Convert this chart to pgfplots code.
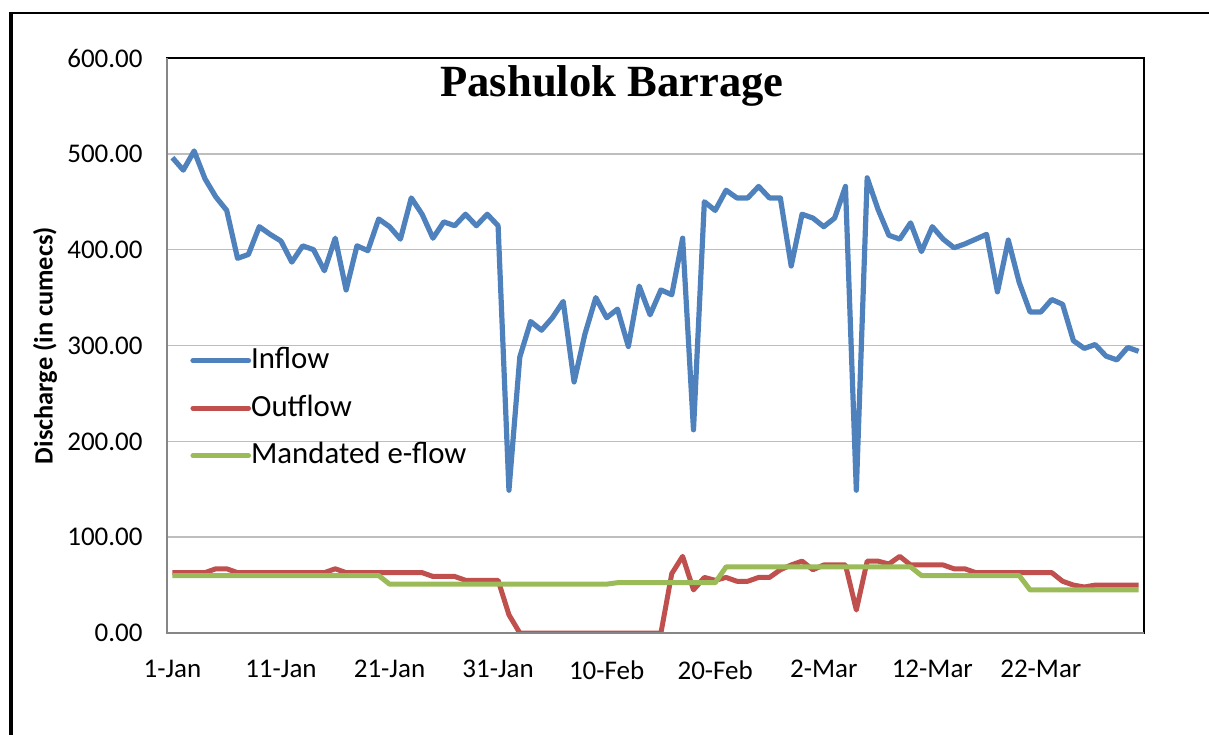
\documentclass[border=0pt]{standalone}
\usepackage{fontspec}
\setmainfont{Carlito}
\newfontfamily\titlefont{Liberation Serif}
\usepackage{pgfplots}
\pgfplotsset{compat=1.18}
\usepackage{pgfplotstable}
\definecolor{cIn}{HTML}{4F81BD}
\definecolor{cOut}{HTML}{C0504D}
\definecolor{cEf}{HTML}{9BBB59}
\definecolor{gridc}{HTML}{BEBEBE}
\definecolor{axc}{HTML}{868686}

\pgfplotstableread{
d v
0 496
1 483
2 503
3 474
4 455
5 441
6 391
7 395
8 424
9 416
10 409
11 387
12 404
13 400
14 378
15 412
16 358
17 404
18 399
19 432
20 424
21 411
22 454
23 437
24 412
25 429
26 425
27 437
28 425
29 437
30 425
31 149
32 288
33 325
34 316
35 329
36 346
37 262
38 312
39 350
40 329
41 338
42 299
43 362
44 332
45 358
46 353
47 412
48 212
49 450
50 441
51 462
52 454
53 454
54 466
55 454
56 454
57 383
58 437
59 433
60 424
61 433
62 466
63 149
64 475
65 442
66 415
67 411
68 428
69 398
70 424
71 411
72 402
73 406
74 411
75 416
76 356
77 410
78 366
79 335
80 335
81 348
82 343
83 305
84 297
85 301
86 289
87 285
88 298
89 294
}\inflow

\pgfplotstableread{
d v
0 63
1 63
2 63
3 63
4 67
5 67
6 63
7 63
8 63
9 63
10 63
11 63
12 63
13 63
14 63
15 67
16 63
17 63
18 63
19 63
20 63
21 63
22 63
23 63
24 59
25 59
26 59
27 55
28 55
29 55
30 55
31 19
32 0
33 0
34 0
35 0
36 0
37 0
38 0
39 0
40 0
41 0
42 0
43 0
44 0
45 0
46 62
47 80
48 45
49 58
50 55
51 58
52 54
53 54
54 58
55 58
56 66
57 71
58 75
59 66
60 71
61 71
62 71
63 24
64 75
65 75
66 72
67 80
68 71
69 71
70 71
71 71
72 67
73 67
74 63
75 63
76 63
77 63
78 63
79 63
80 63
81 63
82 54
83 50
84 48
85 50
86 50
87 50
88 50
89 50
}\outflow

\pgfplotstableread{
d v
0 60
19 60
20 51
40 51
41 52.5
50 52.5
51 69
68 69
69 60
78 60
79 45
89 45
}\eflow

\begin{document}
\begin{tikzpicture}
\useasboundingbox (0,0) rectangle (604.5pt,-367pt);
\draw[line width=2pt] (5.65pt,-380pt) -- (5.65pt,-5.85pt);
\draw[line width=1pt] (4.65pt,-6.35pt) -- (620pt,-6.35pt);
\begin{axis}[
  at={(83.5pt,-316.5pt)}, anchor=south west,
  scale only axis, width=488.5pt, height=287.5pt,
  xmin=-0.5, xmax=89.5, ymin=0, ymax=600,
  xtick={0,10,...,80},
  xticklabels={1-Jan,11-Jan,21-Jan,31-Jan,10-Feb,20-Feb,2-Mar,12-Mar,22-Mar},
  ytick={0,100,...,600},
  major tick length=0pt,
  ymajorgrids, grid style={color=gridc, line width=0.7pt},
  axis line style={draw=black, line width=0.8pt},
  /pgf/number format/assume math mode=true,
  yticklabel={\pgfmathprintnumber[fixed, fixed zerofill, precision=2]{\tick}},
  yticklabel style={font=\fontsize{13.5}{15}\selectfont, inner sep=0pt, anchor=east, xshift=-12pt},
  xticklabel style={font=\fontsize{13.5}{15}\selectfont, inner sep=0pt, anchor=north, yshift=-13.5pt},
  ylabel={\bfseries Discharge (in cumecs)},
  ylabel style={font=\fontsize{13.2}{15}\selectfont, at={(axis description cs:-0.1249,0.5)}, anchor=center},
  legend style={at={(rel axis cs:0.0235,0.4986)}, anchor=north west, draw=none, fill=none,
    inner sep=0pt, row sep=9.75pt, column sep=0pt,
    font=\fontsize{15.4}{18}\selectfont,
    nodes={inner sep=0pt, text height=11pt, text depth=3pt}},
  legend cell align=left,
  legend image code/.code={\draw[#1, line cap=round] (0pt,0pt) -- (27.8pt,0pt);},
  after end axis/.code={
    \draw[axc, line width=0.8pt] (rel axis cs:0,1) -- (rel axis cs:0,0) -- (rel axis cs:1,0);
    \node[anchor=base, inner sep=0pt] at (rel axis cs:0.4555,0.9327)
      {\titlefont\bfseries\fontsize{22.3}{24}\selectfont Pashulok Barrage};
  },
]
\addplot[cIn, line width=2.6pt, line join=round] table[x=d,y=v] {\inflow};
\addlegendentry{Inflow}
\addplot[cOut, line width=2.5pt, line join=round] table[x=d,y=v] {\outflow};
\addlegendentry{Outflow}
\addplot[cEf, line width=2.5pt, line join=round] table[x=d,y=v] {\eflow};
\addlegendentry{Mandated e-flow}
\end{axis}
\end{tikzpicture}
\end{document}
